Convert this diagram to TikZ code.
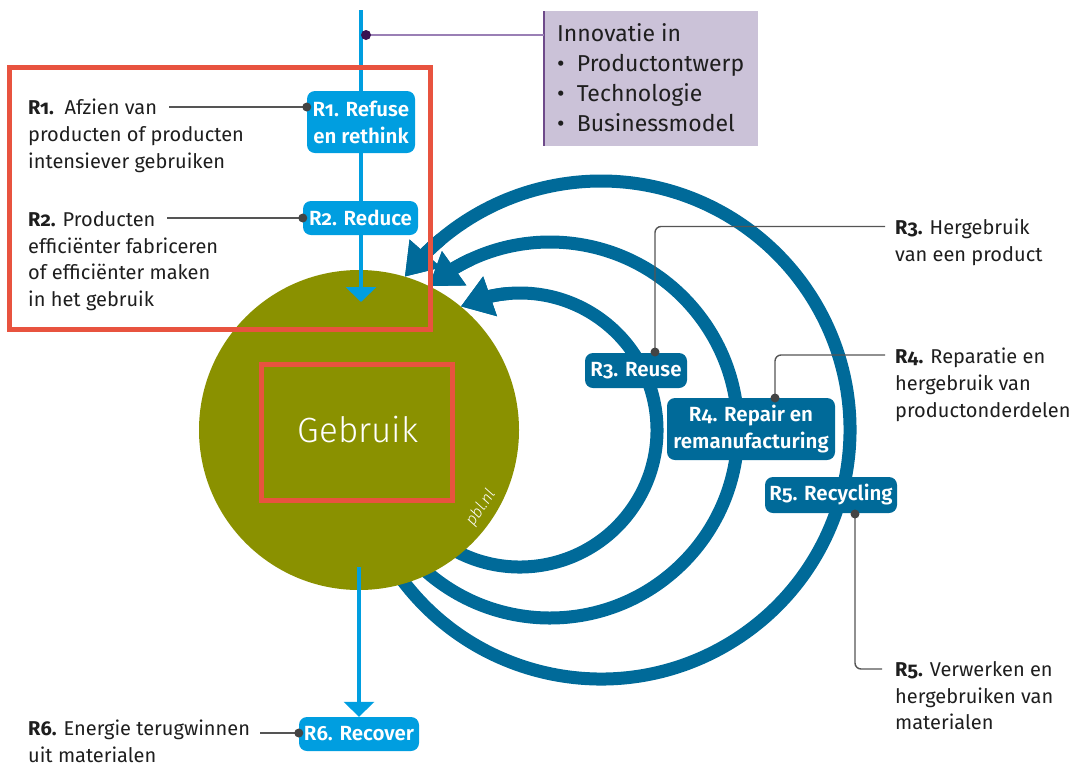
\documentclass[tikz,border=0pt]{standalone}
\usepackage{fontspec}
\setmainfont{Fira Sans}[Numbers=OldStyle]
\newfontfamily\lightfont{Fira Sans Light}
\newfontfamily\semibfont{Fira Sans SemiBold}[Numbers=OldStyle]
\usetikzlibrary{arrows.meta,bending}
\definecolor{lblue}{HTML}{009EE0}
\definecolor{dblue}{HTML}{006A99}
\definecolor{olive}{HTML}{8A9100}
\definecolor{redbox}{HTML}{E8533F}
\definecolor{lav}{HTML}{CBC2D8}
\definecolor{purpborder}{HTML}{6E4A8A}
\definecolor{purpline}{HTML}{9A7FB5}
\definecolor{dotpurp}{HTML}{3A1152}
\definecolor{ink}{HTML}{1E1E1E}
\definecolor{connc}{HTML}{555555}
\definecolor{dotc}{HTML}{444444}
\begin{document}
\begin{tikzpicture}[x=1pt,y=1pt,
  body/.style={font=\fontsize{20}{26.8}\selectfont, text=ink, align=left, inner sep=0pt, anchor=north west},
  boxtext/.style={font=\fontsize{23}{30}\selectfont, text=ink, align=left, inner sep=0pt, anchor=north west},
  lbox/.style={fill=lblue, rounded corners=8pt, text=white, font=\fontsize{20.5}{27}\selectfont\semibfont, align=center, inner sep=0pt},
  dbox/.style={fill=dblue, rounded corners=8pt, text=white, font=\fontsize{20.5}{27}\selectfont\semibfont, align=center, inner sep=0pt},
  conn/.style={draw=connc, line width=1.4pt, rounded corners=6pt},
  cdot/.style={circle, fill=dotc, inner sep=0pt, minimum size=9pt},
  arcline/.style={draw=dblue, line width=13pt, -{Triangle[width=40pt,length=31pt]}},
  flowline/.style={draw=lblue, line width=4pt, -{Triangle[width=30pt,length=15pt]}},
]
\useasboundingbox (0,0) rectangle (1073,-764);

% centres of the arcs and the circle
\coordinate (cc) at (359,-430);
\coordinate (a3) at (520,-430);
\coordinate (a4) at (550,-430);
\coordinate (a5) at (601,-430);

% return arcs (bodies)
\draw[arcline] (a3) ++(-125:137pt) arc[start angle=-125, end angle=115.6, radius=137pt];
\draw[arcline] (a4) ++(-138:188pt) arc[start angle=-138, end angle=130.1, radius=188pt];
\draw[arcline] (a5) ++(-148:249pt) arc[start angle=-148, end angle=142, radius=249pt];

% use circle
\node[circle, fill=olive, minimum size=320pt, inner sep=0pt] (use) at (cc) {};

% arrow heads again on top of the circle
\draw[arcline] (a3) ++(95:137pt) arc[start angle=95, end angle=115.6, radius=137pt];
\draw[arcline] (a4) ++(115:188pt) arc[start angle=115, end angle=130.1, radius=188pt];
\draw[arcline] (a5) ++(130:249pt) arc[start angle=130, end angle=142, radius=249pt];

% main flow
\coordinate (top) at (361,-10);
\coordinate (intip) at (361,-302);
\coordinate (outstart) at (359,-567);
\draw[flowline] (top) -- (intip);

\node[lbox, minimum width=108pt, minimum height=62pt] (r1) at (361,-122) {R1. Refuse\\en rethink};
\node[lbox, minimum width=115pt, minimum height=34pt] (r2) at (360.5,-218) {R2. Reduce};
\node[lbox, minimum width=120pt, minimum height=34pt] (r6) at (359,-734) {R6. Recover};
\draw[flowline] (outstart) -- (outstart |- r6.north);

\node[dbox, minimum width=102pt, minimum height=35pt] (r3) at (636,-370.5) {R3. Reuse};
\node[dbox, minimum width=168pt, minimum height=62pt] (r4) at (751,-429) {R4. Repair en\\remanufacturing};
\node[dbox, minimum width=132pt, minimum height=36pt] (r5) at (831,-495) {R5. Recycling};

% left texts
\node[body] (t1) at (28,-99) {\textbf{R1.}\ \ Afzien van\\producten of producten\\intensiever gebruiken};
\node[body] (t2) at (28,-211) {\textbf{R2.} Producten\\efficiënter fabriceren\\of efficiënter maken\\in het gebruik};
\node[body] (t6) at (28,-720) {\textbf{R6.} Energie terugwinnen\\uit materialen};
% right texts
\node[body] (t3) at (895,-219) {\textbf{R3.} Hergebruik\\van een product};
\node[body] (t4) at (895,-348) {\textbf{R4.} Reparatie en\\hergebruik van\\productonderdelen};
\node[body] (t5) at (895,-661) {\textbf{R5.} Verwerken en\\hergebruiken van\\materialen};

% connectors
\coordinate (c1) at (169,-107);
\draw[conn] (c1) -- (c1 -| r1.west) node[cdot] {};
\coordinate (c2) at (167,-218);
\draw[conn] (c2) -- (c2 -| r2.west) node[cdot] {};
\coordinate (c6) at (260,-733);
\draw[conn] (c6) -- (c6 -| r6.west) node[cdot] {};
\coordinate (c3) at (885,-226.5);
\draw[conn] (c3) -| (655,-352) node[cdot] {};
\coordinate (c4) at (885,-355);
\draw[conn] (c4) -| (775,-398) node[cdot] {};
\coordinate (c5) at (882,-669);
\draw[conn] (c5) -| (855,-514) node[cdot] {};

% innovation box
\node[fill=lav, minimum width=214pt, minimum height=135pt, inner sep=0pt, anchor=north west] (inno) at (544,-11) {};
\draw[purpborder, line width=1.6pt] (inno.north west) -- (inno.south west);
\coordinate (pdot) at (366,-35);
\draw[purpline, line width=1.6pt] (pdot) -- (pdot -| inno.west);
\node[circle, fill=dotpurp, inner sep=0pt, minimum size=10pt] at (pdot) {};
\node[boxtext] (innotxt) at (557,-23) {Innovatie in\\\textbullet\ \ Productontwerp\\\textbullet\ \ Technologie\\\textbullet\ \ Businessmodel};

% red frames
\draw[redbox, line width=5pt] (9.5,-67.5) rectangle (430.5,-329);
\draw[redbox, line width=5pt] (261,-364) rectangle (452,-500);
\node[text=white, font=\fontsize{35}{40}\selectfont\lightfont, inner sep=0pt] (geb) at (358,-430) {Gebruik};
\node[text=white, font=\fontsize{16}{18}\selectfont\lightfont\itshape, rotate=56, inner sep=0pt] (pbl) at (481,-508) {pbl.nl};
\end{tikzpicture}
\end{document}
